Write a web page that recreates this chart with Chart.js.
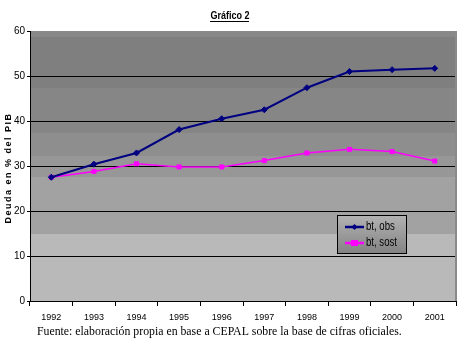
<!DOCTYPE html>
<html>
<head>
<meta charset="utf-8">
<script src="https://cdn.jsdelivr.net/npm/chart.js@4.4.1/dist/chart.umd.min.js"></script>
<style>
html,body{margin:0;padding:0;background:#fff;}
#wrap{position:relative;width:466px;height:349px;}
</style>
</head>
<body>
<div id="wrap"><canvas id="c" width="466" height="349"></canvas></div>
<script>
const years = ['1992','1993','1994','1995','1996','1997','1998','1999','2000','2001'];
const btObs = [27.5, 30.4, 32.9, 38.1, 40.5, 42.5, 47.4, 51.0, 51.4, 51.7];
const btSost = [27.5, 28.8, 30.5, 29.8, 29.8, 31.2, 32.9, 33.7, 33.2, 31.1];
const yTicks = [0, 10, 20, 30, 40, 50, 60];
const titleText = 'Gráfico 2';
const yTitleText = 'Deuda en % del PIB';
const footerText = 'Fuente: elaboración propia en base a CEPAL sobre la base de cifras oficiales.';
const seriesNames = ['bt, obs', 'bt, sost'];

const SANS = "'Liberation Sans', Arial, sans-serif";

function narrowText(ctx, text, x, y, sx, align) {
  ctx.save();
  ctx.translate(x, y);
  ctx.scale(sx, 1);
  ctx.textAlign = align;
  ctx.fillText(text, 0, 0);
  ctx.restore();
}

const bgPlugin = {
  id: 'bg',
  beforeDraw(chart) {
    const {ctx, chartArea: a} = chart;
    const h = a.bottom - a.top;
    const bands = [
      [0.000, 0.022, '#888888'],
      [0.022, 0.211, '#7f7f7f'],
      [0.211, 0.378, '#868686'],
      [0.378, 0.463, '#8e8e8e'],
      [0.463, 0.541, '#979797'],
      [0.541, 0.752, '#a2a2a2'],
      [0.752, 1.000, '#b9b9b9']
    ];
    ctx.save();
    bands.forEach(b => {
      ctx.fillStyle = b[2];
      const y0 = Math.round(a.top + b[0] * h);
      const y1 = Math.round(a.top + b[1] * h);
      ctx.fillRect(a.left, y0, a.right - a.left, y1 - y0);
    });
    ctx.restore();
  },
  afterDraw(chart) {
    const {ctx, chartArea: a} = chart;
    ctx.save();
    ctx.fillStyle = '#8a8a8a';
    ctx.fillRect(a.right - 1, a.top, 2, a.bottom - a.top);

    // title
    ctx.fillStyle = '#000';
    ctx.font = "bold 11px " + SANS;
    ctx.textBaseline = 'alphabetic';
    narrowText(ctx, titleText, 230, 19, 0.82, 'center');
    const tw = ctx.measureText(titleText).width * 0.82;
    ctx.fillRect(Math.round(230 - tw / 2), 21, Math.round(tw), 1);

    // y axis title
    ctx.save();
    ctx.translate(9, 168);
    ctx.rotate(-Math.PI / 2);
    ctx.font = "bold 9px " + SANS;
    try { ctx.letterSpacing = '1.5px'; } catch (e) {}
    ctx.textAlign = 'center';
    ctx.textBaseline = 'middle';
    ctx.fillText(yTitleText, 0, 0);
    ctx.restore();

    // footer
    ctx.font = "11.8px 'Liberation Serif', 'Times New Roman', serif";
    ctx.textAlign = 'left';
    ctx.textBaseline = 'alphabetic';
    ctx.fillText(footerText, 37, 335);

    // legend
    const lx = 337, ly = 215, lw = 70, lh = 39;
    const g = ctx.createLinearGradient(0, ly, 0, ly + lh);
    g.addColorStop(0, '#b3b3b3');
    g.addColorStop(1, '#828282');
    ctx.fillStyle = g;
    ctx.fillRect(lx, ly, lw, lh);
    ctx.strokeStyle = '#000';
    ctx.lineWidth = 1;
    ctx.strokeRect(lx + 0.5, ly + 0.5, lw - 1, lh - 1);
    chart.data.datasets.forEach((ds, i) => {
      const yy = ly + 12 + i * 16;
      ctx.strokeStyle = ds.borderColor;
      ctx.lineWidth = 2.5;
      ctx.beginPath();
      ctx.moveTo(lx + 8, yy);
      ctx.lineTo(lx + 27, yy);
      ctx.stroke();
      ctx.fillStyle = ds.borderColor;
      if (i === 0) {
        ctx.beginPath();
        ctx.moveTo(lx + 17.5, yy - 3);
        ctx.lineTo(lx + 20.5, yy);
        ctx.lineTo(lx + 17.5, yy + 3);
        ctx.lineTo(lx + 14.5, yy);
        ctx.closePath();
        ctx.fill();
      } else {
        ctx.fillRect(lx + 14, yy - 3, 7, 6);
      }
      ctx.fillStyle = '#000';
      ctx.font = "12px " + SANS;
      ctx.textBaseline = 'middle';
      narrowText(ctx, ds.label, lx + 29, yy, 0.8, 'left');
    });
    ctx.restore();
  }
};

new Chart(document.getElementById('c'), {
  type: 'line',
  data: {
    labels: years,
    datasets: [
      {
        label: seriesNames[0],
        data: btObs,
        borderColor: '#000080',
        backgroundColor: '#000080',
        borderWidth: 2,
        pointStyle: 'rectRot',
        pointRadius: 3,
        pointBorderWidth: 1,
        tension: 0
      },
      {
        label: seriesNames[1],
        data: btSost,
        borderColor: '#ff00ff',
        backgroundColor: '#ff00ff',
        borderWidth: 1.5,
        pointStyle: 'rect',
        pointRadius: 3.5,
        pointBorderWidth: 0,
        tension: 0
      }
    ]
  },
  options: {
    responsive: false,
    animation: false,
    devicePixelRatio: 1,
    layout: { padding: { top: 31, right: 10, bottom: 0, left: 0 } },
    plugins: { legend: { display: false }, title: { display: false }, tooltip: { enabled: false } },
    scales: {
      x: {
        type: 'category',
        offset: true,
        afterFit(s) { s.height = 48; },
        grid: {
          offset: true,
          drawOnChartArea: false,
          drawTicks: true,
          tickLength: 5,
          tickColor: '#000',
          color: '#000'
        },
        border: { display: true, color: '#000', width: 1 },
        ticks: {
          color: '#000',
          padding: 6,
          maxRotation: 0,
          autoSkip: false,
          font: { family: SANS, size: 9 }
        }
      },
      y: {
        min: 0,
        max: 60,
        afterFit(s) { s.width = 30; },
        afterBuildTicks(s) { s.ticks = yTicks.map(v => ({ value: v })); },
        grid: {
          drawTicks: true,
          tickLength: 3,
          tickColor: '#000',
          color: (c) => (c.tick && (c.tick.value === 60 || c.tick.value === 0)) ? 'rgba(0,0,0,0)' : '#000',
          lineWidth: 1
        },
        border: { display: true, color: '#000', width: 1 },
        ticks: {
          color: '#000',
          padding: 2,
          font: { family: SANS, size: 10 }
        }
      }
    }
  },
  plugins: [bgPlugin]
});
</script>
</body>
</html>
